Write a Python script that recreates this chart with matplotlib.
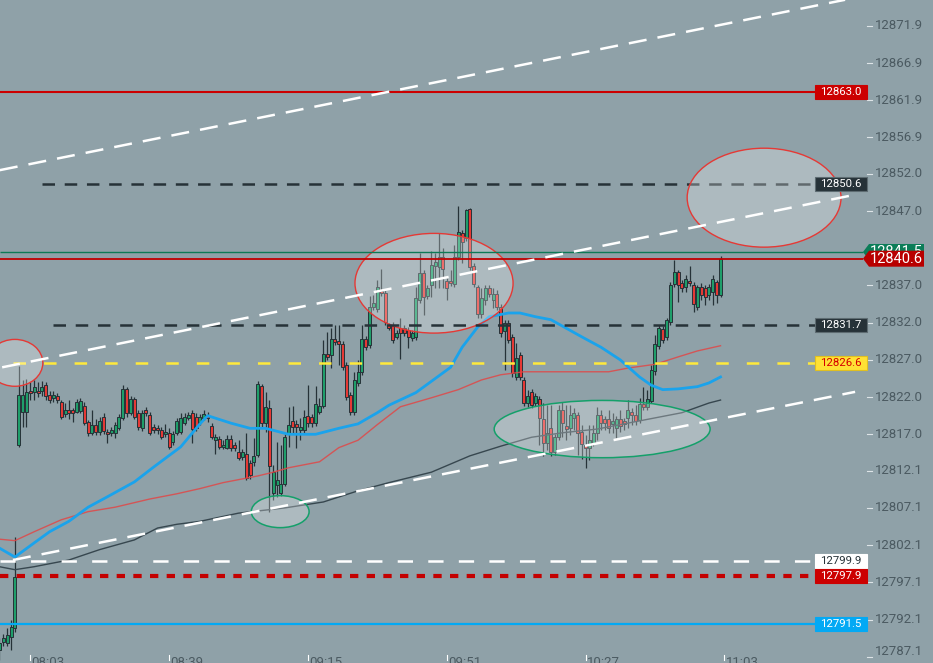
import matplotlib
matplotlib.use("Agg")
import matplotlib.pyplot as plt
from matplotlib.patches import Ellipse, Rectangle, Polygon

plt.rcParams['font.family'] = ['Roboto', 'DejaVu Sans']
plt.rcParams['lines.scale_dashes'] = False

# ---- candles: one per minute, minute 0 = 08:03 ----
first_minute = -8
opens = [
    12788.0, 12789.1, 12788.9, 12789.8, 12791.0, 12815.6, 12820.0, 12820.0, 12822.8, 12822.7,
    12822.8, 12822.8, 12823.6, 12822.3, 12821.9, 12822.1, 12821.3, 12819.7, 12820.3, 12820.2,
    12820.0, 12820.1, 12820.8, 12818.6, 12817.2, 12818.2, 12817.3, 12819.3, 12817.3, 12817.2,
    12817.2, 12817.9, 12819.2, 12823.1, 12819.9, 12821.7, 12819.9, 12817.8, 12820.2, 12819.6,
    12818.0, 12817.9, 12817.6, 12817.0, 12817.2, 12816.0, 12817.2, 12817.3, 12818.5, 12819.2,
    12819.9, 12819.3, 12818.7, 12819.2, 12819.6, 12818.1, 12816.2, 12816.4, 12815.3, 12815.2,
    12816.4, 12815.6, 12814.6, 12813.9, 12814.3, 12813.1, 12813.3, 12814.2, 12823.5, 12818.5,
    12820.5, 12809.1, 12810.2, 12809.1, 12810.3, 12817.2, 12818.8, 12818.4, 12817.6, 12817.6,
    12819.5, 12819.3, 12818.5, 12820.0, 12820.8, 12827.8, 12827.7, 12829.8, 12829.5, 12829.1,
    12826.3, 12822.3, 12820.0, 12823.9, 12825.4, 12829.8, 12829.0, 12834.1, 12833.9, 12836.3,
    12836.0, 12831.7, 12831.7, 12830.1, 12831.3, 12831.3, 12831.0, 12829.9, 12830.1, 12835.0,
    12838.7, 12835.6, 12837.1, 12839.6, 12839.5, 12840.8, 12837.6, 12837.6, 12837.2, 12840.8,
    12844.1, 12843.4, 12847.3, 12839.6, 12836.8, 12833.2, 12835.1, 12836.7, 12835.1, 12835.9,
    12834.1, 12830.9, 12832.0, 12830.1, 12824.7, 12827.7, 12824.3, 12821.2, 12822.7, 12821.2,
    12821.7, 12819.0, 12815.8, 12817.8, 12814.6, 12816.6, 12820.3, 12818.1, 12817.9, 12819.2,
    12819.6, 12817.3, 12815.6, 12815.2, 12815.8, 12817.2, 12819.6, 12819.0, 12819.0, 12818.4,
    12817.9, 12819.0, 12818.8, 12819.2, 12820.0, 12819.6, 12818.9, 12821.1, 12820.7, 12821.5,
    12825.5, 12828.9, 12831.2, 12830.1, 12832.1, 12837.2, 12838.8, 12837.3, 12836.8, 12837.6,
    12837.1, 12834.1, 12836.8, 12836.7, 12835.7, 12836.1, 12837.5, 12835.7,
]
highs = [
    12789.6, 12790.2, 12791.0, 12792.1, 12803.2, 12826.2, 12824.3, 12824.4, 12824.0, 12824.3,
    12824.0, 12824.2, 12824.0, 12822.8, 12822.8, 12822.5, 12821.6, 12821.2, 12821.6, 12820.5,
    12821.7, 12821.9, 12821.3, 12818.9, 12820.3, 12819.0, 12819.3, 12819.8, 12817.7, 12818.0,
    12818.6, 12819.7, 12823.6, 12823.4, 12822.1, 12822.0, 12820.2, 12820.3, 12820.6, 12820.0,
    12818.4, 12818.3, 12818.0, 12818.4, 12817.9, 12817.4, 12819.2, 12819.8, 12819.8, 12820.0,
    12820.3, 12819.8, 12819.7, 12820.2, 12820.0, 12818.5, 12817.0, 12816.8, 12816.2, 12816.9,
    12816.9, 12816.0, 12816.2, 12815.0, 12817.2, 12813.6, 12816.5, 12824.2, 12823.8, 12822.7,
    12821.6, 12812.9, 12816.0, 12815.6, 12817.0, 12820.7, 12820.8, 12818.9, 12819.2, 12820.3,
    12823.6, 12819.7, 12823.5, 12821.9, 12829.7, 12830.8, 12831.3, 12831.7, 12831.7, 12829.5,
    12826.7, 12822.7, 12825.4, 12827.0, 12831.7, 12830.2, 12835.6, 12835.7, 12837.7, 12839.2,
    12836.4, 12832.0, 12832.1, 12831.0, 12832.6, 12831.7, 12831.4, 12831.0, 12836.8, 12841.4,
    12839.1, 12837.1, 12841.6, 12841.4, 12844.1, 12842.0, 12838.0, 12839.1, 12842.4, 12847.7,
    12844.5, 12847.3, 12847.4, 12840.0, 12837.1, 12836.7, 12837.1, 12837.1, 12836.7, 12836.4,
    12834.5, 12832.4, 12832.4, 12830.5, 12829.3, 12828.1, 12824.7, 12823.0, 12823.1, 12822.5,
    12822.2, 12821.2, 12820.9, 12820.9, 12817.0, 12820.9, 12821.3, 12820.9, 12820.9, 12820.5,
    12820.0, 12818.3, 12816.9, 12818.3, 12818.3, 12820.7, 12820.3, 12819.5, 12820.3, 12819.9,
    12819.5, 12820.3, 12819.2, 12821.6, 12820.5, 12820.9, 12821.9, 12823.4, 12823.0, 12826.3,
    12830.3, 12831.7, 12831.6, 12832.6, 12837.5, 12840.4, 12839.1, 12837.8, 12838.4, 12839.6,
    12837.5, 12837.1, 12837.3, 12837.0, 12837.2, 12838.4, 12837.7, 12841.0,
]
lows = [
    12786.6, 12788.6, 12788.5, 12788.0, 12790.4, 12815.3, 12818.0, 12818.0, 12821.6, 12821.6,
    12822.0, 12822.2, 12821.6, 12821.2, 12821.4, 12821.2, 12819.0, 12819.3, 12819.0, 12818.6,
    12819.8, 12819.8, 12818.3, 12816.8, 12816.9, 12816.9, 12816.9, 12817.0, 12815.8, 12816.8,
    12816.5, 12817.6, 12818.9, 12819.3, 12819.6, 12819.0, 12817.6, 12817.4, 12819.5, 12816.9,
    12817.2, 12817.1, 12816.3, 12816.6, 12815.0, 12815.6, 12816.9, 12817.0, 12818.2, 12818.9,
    12815.8, 12817.5, 12818.3, 12818.9, 12818.6, 12816.3, 12814.3, 12815.0, 12815.0, 12815.0,
    12814.8, 12814.8, 12813.5, 12813.5, 12810.9, 12811.0, 12812.8, 12813.9, 12817.8, 12817.3,
    12806.6, 12808.1, 12808.6, 12808.7, 12810.0, 12815.3, 12817.2, 12815.2, 12816.2, 12817.2,
    12818.0, 12818.0, 12818.1, 12819.7, 12820.5, 12827.0, 12825.9, 12829.0, 12826.3, 12825.6,
    12821.6, 12819.6, 12819.6, 12823.5, 12825.0, 12828.3, 12828.6, 12833.7, 12833.5, 12835.6,
    12831.7, 12831.0, 12829.3, 12829.8, 12827.1, 12830.2, 12828.6, 12829.5, 12829.7, 12834.6,
    12833.0, 12835.2, 12835.5, 12836.7, 12836.7, 12836.7, 12835.0, 12836.9, 12836.8, 12840.4,
    12840.0, 12843.0, 12839.1, 12836.8, 12832.6, 12832.6, 12834.4, 12835.5, 12834.0, 12833.7,
    12830.1, 12825.6, 12829.3, 12824.7, 12824.3, 12824.3, 12820.8, 12820.7, 12820.5, 12820.8,
    12815.6, 12814.1, 12814.9, 12814.1, 12814.2, 12816.2, 12816.6, 12816.2, 12816.9, 12817.6,
    12814.2, 12813.7, 12812.5, 12813.5, 12815.4, 12816.2, 12817.6, 12817.6, 12817.2, 12817.2,
    12816.5, 12817.3, 12817.6, 12817.9, 12818.3, 12818.3, 12818.5, 12820.3, 12820.3, 12821.2,
    12825.0, 12828.5, 12829.3, 12829.7, 12831.7, 12836.8, 12834.8, 12836.1, 12836.1, 12836.9,
    12833.4, 12833.7, 12835.0, 12834.4, 12835.0, 12834.4, 12834.6, 12835.5,
]
closes = [
    12789.0, 12789.6, 12790.0, 12791.1, 12797.8, 12822.3, 12822.3, 12822.7, 12822.5, 12823.4,
    12822.5, 12823.4, 12822.1, 12821.6, 12822.3, 12821.6, 12819.3, 12820.3, 12819.9, 12819.9,
    12821.3, 12821.5, 12818.5, 12817.2, 12818.2, 12817.3, 12818.8, 12817.4, 12817.0, 12817.6,
    12818.2, 12819.3, 12823.1, 12819.9, 12821.7, 12819.3, 12818.0, 12819.9, 12819.9, 12817.2,
    12817.6, 12817.6, 12816.6, 12817.2, 12815.3, 12817.0, 12818.8, 12819.2, 12819.3, 12819.6,
    12817.7, 12817.9, 12819.3, 12819.7, 12819.2, 12816.6, 12816.7, 12815.3, 12815.6, 12816.4,
    12815.2, 12815.2, 12813.8, 12814.6, 12811.1, 12811.5, 12814.1, 12823.8, 12818.5, 12820.7,
    12812.7, 12811.9, 12810.9, 12810.3, 12816.6, 12818.2, 12818.0, 12818.0, 12818.0, 12819.3,
    12818.5, 12818.5, 12821.1, 12820.8, 12827.8, 12827.4, 12829.8, 12829.4, 12829.1, 12826.0,
    12822.0, 12820.0, 12824.3, 12825.4, 12829.8, 12828.7, 12834.1, 12834.6, 12836.8, 12836.0,
    12832.1, 12831.3, 12829.7, 12830.6, 12830.6, 12830.6, 12830.1, 12830.6, 12835.3, 12838.7,
    12835.5, 12836.7, 12839.8, 12840.2, 12840.8, 12839.2, 12836.7, 12837.3, 12840.8, 12844.2,
    12842.8, 12847.1, 12839.5, 12837.2, 12833.2, 12835.3, 12836.7, 12835.9, 12835.9, 12834.1,
    12830.6, 12832.0, 12829.7, 12825.2, 12827.3, 12824.7, 12821.2, 12822.1, 12820.9, 12822.1,
    12819.2, 12815.8, 12817.2, 12814.6, 12816.6, 12820.3, 12818.5, 12817.7, 12819.6, 12819.9,
    12817.2, 12815.7, 12815.2, 12816.2, 12817.2, 12819.6, 12818.5, 12818.5, 12817.9, 12818.8,
    12819.0, 12818.1, 12818.4, 12820.3, 12819.6, 12818.8, 12821.1, 12820.7, 12821.7, 12825.6,
    12829.1, 12831.3, 12829.7, 12832.4, 12837.1, 12838.8, 12837.1, 12836.7, 12837.9, 12837.3,
    12834.5, 12836.8, 12835.7, 12835.5, 12836.8, 12837.9, 12835.7, 12840.6,
]

# ---- moving averages as (minute, price) ----
ma_fast_min = [-8, -4, 1, 5, 10, 15, 20, 27, 32, 39, 44, 46, 52, 57, 61, 67, 74, 80, 85, 90,
               93, 100, 109, 112, 116, 119, 124, 127, 131, 135, 143, 148, 153, 158, 161, 164,
               168, 173, 176, 179]
ma_fast = [12801.7, 12800.5, 12802.4, 12803.9, 12805.3, 12807.2, 12808.6, 12810.6, 12812.6,
           12815.3, 12818.4, 12819.5, 12818.5, 12817.8, 12817.8, 12817.0, 12817.0, 12817.8,
           12818.4, 12819.9, 12820.9, 12822.6, 12826.0, 12828.7, 12831.4, 12832.8, 12833.3,
           12833.3, 12832.8, 12832.4, 12830.1, 12828.7, 12827.0, 12824.7, 12823.6, 12823.0,
           12823.1, 12823.4, 12823.9, 12824.7]
ma_mid_min = [-8, -4, 1, 8, 15, 22, 31, 38, 44, 50, 59, 63, 67, 75, 80, 85, 90, 96, 104, 111,
              117, 122, 128, 135, 150, 155, 162, 168, 173, 179]
ma_mid = [12802.9, 12802.7, 12803.9, 12805.5, 12806.6, 12807.2, 12808.3, 12809.0, 12809.7,
          12810.5, 12811.4, 12811.9, 12812.5, 12813.3, 12815.2, 12816.2, 12818.3, 12820.7,
          12821.9, 12823.0, 12824.3, 12825.0, 12825.4, 12825.4, 12825.4, 12825.9, 12826.4,
          12827.4, 12828.2, 12828.9]
ma_slow_min = [-8, -4, 1, 10, 18, 27, 33, 38, 44, 54, 66, 76, 85, 93, 104, 114, 122, 130, 138,
               147, 158, 169, 176, 179]
ma_slow = [12799.2, 12798.8, 12799.2, 12800.1, 12801.5, 12802.8, 12804.4, 12804.9, 12805.3,
           12806.4, 12807.1, 12807.9, 12809.4, 12810.5, 12811.9, 12814.1, 12815.4, 12816.6,
           12817.2, 12817.7, 12818.8, 12819.9, 12821.2, 12821.6]

# ---- drawn trend lines (minute, price) endpoints ----
trend_lines = [
    ((-7.9, 12852.5), (211.3, 12875.4)),
    ((-7.3, 12826.0), (213.9, 12849.2)),
    ((-4.5, 12800.1), (213.9, 12822.7)),
]

# ---- horizontal levels ----
lvl_high = 12863.0
lvl_dash1 = 12850.6
lvl_green = 12841.5
lvl_last = 12840.6
lvl_dash2 = 12831.7
lvl_yellow = 12826.6
lvl_white = 12799.9
lvl_reddot = 12797.9
lvl_blue = 12791.5

# ---- marked zones: (centre minute, centre price, width min, height price) ----
red_zones = [(-4.0, 12826.6, 14.5, 6.3), (104.7, 12837.3, 41.0, 13.4), (190.3, 12848.8, 39.9, 13.3)]
green_zones = [(148.3, 12817.7, 56.0, 7.7), (64.8, 12806.6, 15.0, 4.3)]

price_ticks = [12871.9, 12866.9, 12861.9, 12856.9, 12852.0, 12847.0, 12837.0, 12832.0,
               12827.0, 12822.0, 12817.0, 12812.1, 12807.1, 12802.1, 12797.1, 12792.1, 12787.1]
time_labels = ['08:03', '08:39', '09:15', '09:51', '10:27', '11:03']
time_minutes = [0, 36, 72, 108, 144, 180]

# ---- layout (pixel geometry of the original screen) ----
W, H = 933, 663
PX_PER_MIN = 3.856
X0_PX = 30.3
PX_PER_PT = 7.44
TOP_PRICE = 12875.37
BG = '#8fa1a8'
DARK = '#263238'
GREEN = '#1f9e6a'
RED = '#e53935'


def xm(px):
    return (px - X0_PX) / PX_PER_MIN


def dp(px):
    return px / PX_PER_PT


fig = plt.figure(figsize=(W / 100, H / 100), dpi=100)
fig.patch.set_facecolor(BG)
ax = fig.add_axes([0, 0, 1, 1])
ax.set_facecolor(BG)
ax.set_xlim(xm(0), xm(W))
ax.set_ylim(TOP_PRICE - dp(H), TOP_PRICE)
ax.axis('off')

right = xm(815)

# candles
for i in range(len(opens)):
    m = first_minute + i
    o, h, l, c = opens[i], highs[i], lows[i], closes[i]
    ax.vlines(m, l, h, color=DARK, lw=0.9, zorder=3)
    body = max(abs(c - o), 0.25)
    ax.bar(m, body, bottom=min(o, c), width=0.78, color=GREEN if c >= o else RED,
           edgecolor=DARK, linewidth=0.7, zorder=4)

# moving averages
ax.plot(ma_slow_min, ma_slow, color='#37474f', lw=1.0, zorder=5)
ax.plot(ma_mid_min, ma_mid, color='#e04848', lw=1.0, alpha=0.85, zorder=5)
ax.plot(ma_fast_min, ma_fast, color='#1aa3ec', lw=2.0, zorder=5)

# horizontal levels
ax.hlines(lvl_high, xm(0), right, color='#cc0000', lw=1.5, zorder=6)
ax.hlines(lvl_dash1, xm(42), right, color=DARK, lw=1.8, linestyles=(0, (9, 7)), zorder=6)
ax.hlines(lvl_dash2, xm(53), right, color=DARK, lw=1.8, linestyles=(0, (9, 7)), zorder=7.5)
ax.hlines(lvl_green, xm(0), xm(863), color='#0d7a56', lw=1.0, zorder=7.5)
ax.hlines(lvl_last, xm(0), xm(863), color='#c00000', lw=1.3, zorder=7.5)
ax.hlines(lvl_yellow, xm(13), right, color='#ffe93b', lw=1.8, linestyles=(0, (9, 13)), zorder=6)
ax.hlines(lvl_white, xm(0), right, color='white', lw=1.8, linestyles=(0, (11, 11)), zorder=6)
ax.hlines(lvl_reddot, xm(0), right, color='#c40000', lw=3.0, linestyles=(0, (6, 6)), zorder=6)
ax.hlines(lvl_blue, xm(0), right, color='#03a9f4', lw=1.6, zorder=6)

# zones
for cx, cy, w, h in red_zones:
    ax.add_patch(Ellipse((cx, cy), w, h, facecolor=(1, 1, 1, 0.27), edgecolor='#e53935',
                         lw=1.0, zorder=7))
for cx, cy, w, h in green_zones:
    ax.add_patch(Ellipse((cx, cy), w, h, facecolor=(1, 1, 1, 0.27), edgecolor='#14a06a',
                         lw=1.1, zorder=7))

# trend lines
for (x1, y1), (x2, y2) in trend_lines:
    ax.plot([x1, x2], [y1, y2], color='white', lw=1.8, dashes=(13, 8), zorder=8)

# price scale ticks
for p in price_ticks:
    ax.plot([xm(867), xm(872)], [p, p], color='#dde4e7', lw=0.8, zorder=9)
    ax.text(xm(875), p if p > 12790 else p + dp(5), f'{p:.1f}', fontsize=9.5,
            color='#4b5a61', va='center', ha='left', zorder=9)

# price boxes on the scale
boxes = [
    (lvl_high, '#cc0000', 'white', '#cc0000'),
    (lvl_dash1, DARK, 'white', '#5d6b71'),
    (lvl_dash2, DARK, 'white', '#5d6b71'),
    (lvl_yellow, '#ffe135', '#d50000', '#e0c020'),
    (lvl_white, 'white', DARK, 'white'),
    (lvl_reddot, '#cc0000', 'white', '#cc0000'),
    (lvl_blue, '#03a9f4', 'white', '#03a9f4'),
]
for p, fc, tc, ec in boxes:
    ax.add_patch(Rectangle((xm(815), p - dp(7)), xm(867) - xm(815), dp(14), facecolor=fc,
                           edgecolor=ec, lw=0.8, zorder=10))
    ax.text(xm(841), p, f'{p:.1f}', fontsize=8.2, color=tc, ha='center', va='center', zorder=11)

# arrow shaped labels for live prices
for p, fc in [(lvl_green, '#0b7d58'), (lvl_last, '#b80000')]:
    hh = dp(8)
    ax.add_patch(Polygon([(xm(863), p), (xm(869), p + hh), (xm(924), p + hh),
                          (xm(924), p - hh), (xm(869), p - hh)], closed=True,
                         facecolor=fc, edgecolor='none', zorder=12))
    ax.text(xm(896), p, f'{p:.1f}', fontsize=10.5, color='white', ha='center', va='center',
            zorder=12)

# time axis
for m, lab in zip(time_minutes, time_labels):
    y0 = TOP_PRICE - dp(655)
    ax.plot([m, m], [y0, TOP_PRICE - dp(660)], color='white', lw=0.8, zorder=9)
    ax.text(m + 0.3, TOP_PRICE - dp(656), lab, fontsize=9.5, color='#4b5a61',
            ha='left', va='top', zorder=9)

fig.savefig('out.png', dpi=100, facecolor=BG)
